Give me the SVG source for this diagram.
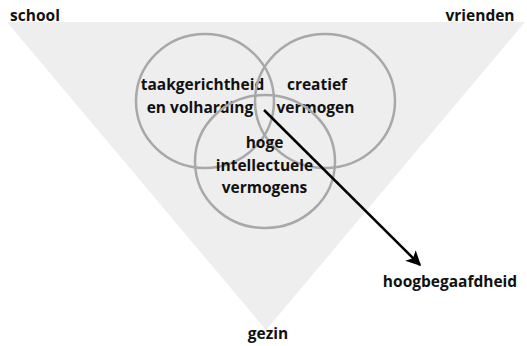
<svg xmlns="http://www.w3.org/2000/svg" width="527" height="346" viewBox="0 0 527 346">
  <defs>
    <style>
      .lbl { font-family: "Open Sans", "Noto Sans", "Liberation Sans", sans-serif; font-weight: 700; font-size: 15.5px; fill: #111111; text-anchor: middle; }
      .ring { fill: none; stroke: #a8a8a8; stroke-width: 2.5; }
      .conn { fill: none; stroke: #000000; stroke-width: 2.5; }
    </style>
    <marker id="arrow" viewBox="0 0 10 10" refX="9" refY="5" markerWidth="7.5" markerHeight="6" markerUnits="strokeWidth" orient="auto">
      <path d="M0,0 L10,5 L0,10 L2.5,5 Z" fill="#000000"/>
    </marker>
  </defs>
  <rect width="527" height="346" fill="#ffffff"/>
  <g id="omgeving">
    <polygon points="7,22 525,22 266,330" fill="#eeeeee"/>
    <text class="lbl" x="35" y="21">school</text>
    <text class="lbl" x="480" y="21">vrienden</text>
    <text class="lbl" x="268" y="339">gezin</text>
  </g>
  <g id="taakgerichtheid">
    <ellipse class="ring" cx="205" cy="101" rx="69" ry="67"/>
    <text class="lbl" x="202.5" y="90">taakgerichtheid</text>
    <text class="lbl" x="200" y="113">en volharding</text>
  </g>
  <g id="creatief">
    <ellipse class="ring" cx="325" cy="101" rx="70" ry="67"/>
    <text class="lbl" x="317" y="90">creatief</text>
    <text class="lbl" x="315.5" y="113">vermogen</text>
  </g>
  <g id="intellect">
    <ellipse class="ring" cx="265" cy="161.5" rx="70" ry="66.5"/>
    <text class="lbl" x="264.5" y="148">hoge</text>
    <text class="lbl" x="264.5" y="171">intellectuele</text>
    <text class="lbl" x="264.5" y="193">vermogens</text>
  </g>
  <g id="hoogbegaafdheid">
    <text class="lbl" x="450" y="287">hoogbegaafdheid</text>
  </g>
  <g id="connectors">
    <line class="conn" x1="264" y1="110" x2="420" y2="265" marker-end="url(#arrow)"/>
  </g>
</svg>
